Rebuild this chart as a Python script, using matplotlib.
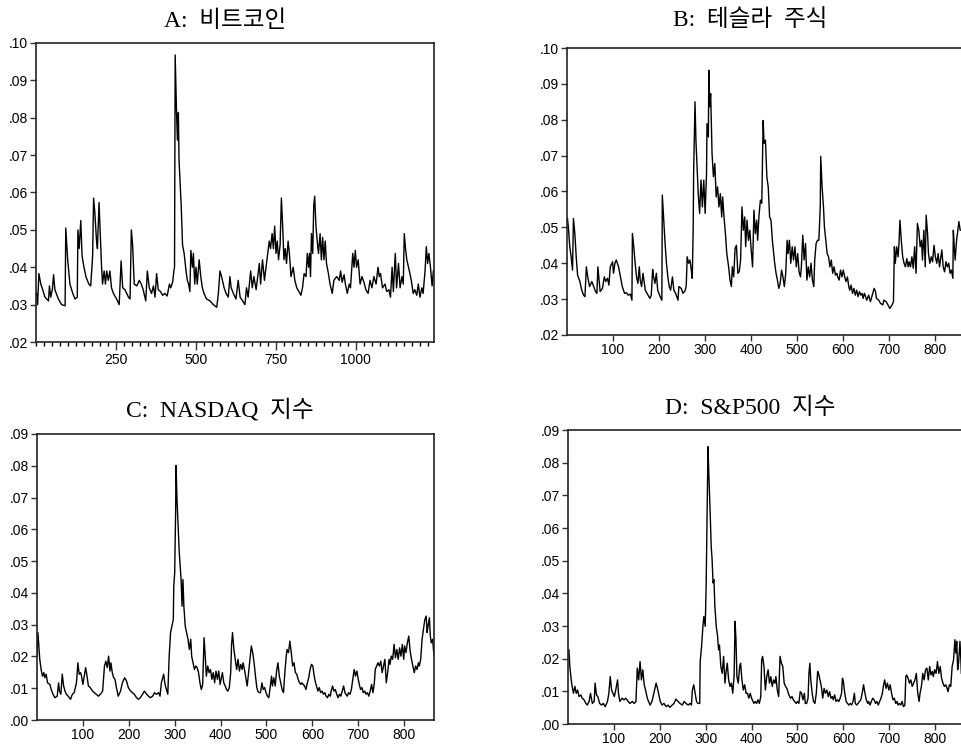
import numpy as np
import matplotlib
matplotlib.use("Agg")
import matplotlib.pyplot as plt
from matplotlib.ticker import MultipleLocator, FuncFormatter

plt.rcParams['font.family'] = ['Liberation Sans', 'DejaVu Sans']

# A: bitcoin (obs)
btc_obs = [2, 5, 9, 15, 21, 28, 39, 42, 46, 51, 55, 59, 70, 80, 91, 93, 99, 106, 115, 122,
           129, 131, 135, 140, 144, 150, 156, 165, 171, 177, 180, 184, 189, 192, 197, 201, 205, 208, 213, 217,
           221, 226, 231, 236, 242, 252, 260, 266, 271, 278, 289, 294, 298, 302, 307, 315, 323, 329, 335, 343,
           348, 354, 361, 367, 372, 377, 382, 388, 396, 403, 410, 417, 421, 427, 431, 433, 435, 439, 442, 445,
           447, 450, 454, 458, 463, 469, 473, 477, 481, 484, 489, 492, 496, 500, 504, 510, 515, 520, 525, 533,
           544, 554, 565, 570, 575, 580, 588, 594, 601, 606, 610, 617, 625, 632, 638, 646, 653, 658, 663, 671,
           676, 681, 688, 694, 698, 702, 708, 714, 719, 724, 729, 733, 738, 742, 746, 750, 754, 758, 763, 767,
           771, 775, 779, 783, 788, 792, 797, 804, 809, 815, 822, 828, 833, 838, 844, 848, 852, 855, 858, 861,
           865, 868, 871, 875, 879, 883, 888, 892, 896, 900, 904, 908, 914, 919, 926, 931, 940, 948, 952, 957,
           963, 967, 973, 979, 983, 990, 994, 998, 1002, 1007, 1013, 1019, 1025, 1031, 1038, 1044, 1050, 1056, 1063, 1069,
           1073, 1077, 1083, 1091, 1096, 1103, 1108, 1113, 1117, 1123, 1127, 1133, 1138, 1144, 1148, 1151, 1155, 1159, 1167, 1173,
           1179, 1184, 1190, 1195, 1200, 1206, 1210, 1216, 1220, 1224, 1228, 1233, 1238, 1242]
btc_vol = [.0330, .0300, .0383, .0355, .0340, .0320, .0310, .0350, .0320, .0340, .0380, .0340, .0315, .0300, .0297, .0505, .0420, .0355, .0330, .0315,
           .0320, .0500, .0450, .0525, .0430, .0400, .0375, .0355, .0350, .0430, .0585, .0545, .0473, .0450, .0573, .0490, .0400, .0355, .0390, .0355,
           .0390, .0365, .0390, .0345, .0330, .0315, .0300, .0417, .0345, .0340, .0320, .0315, .0500, .0460, .0355, .0350, .0365, .0355, .0340, .0310,
           .0390, .0345, .0330, .0350, .0320, .0383, .0340, .0336, .0325, .0330, .0323, .0355, .0345, .0360, .0390, .0400, .0968, .0822, .0740, .0814,
           .0688, .0634, .0562, .0460, .0437, .0390, .0365, .0355, .0335, .0445, .0400, .0437, .0355, .0400, .0355, .0420, .0375, .0345, .0330, .0315,
           .0310, .0300, .0293, .0330, .0390, .0375, .0345, .0330, .0320, .0375, .0345, .0330, .0315, .0365, .0320, .0310, .0300, .0345, .0320, .0390,
           .0345, .0375, .0340, .0383, .0410, .0355, .0420, .0365, .0400, .0437, .0470, .0450, .0490, .0450, .0510, .0437, .0470, .0420, .0460, .0585,
           .0510, .0420, .0450, .0410, .0470, .0437, .0375, .0400, .0365, .0345, .0335, .0325, .0345, .0383, .0375, .0437, .0400, .0437, .0375, .0490,
           .0437, .0563, .0590, .0510, .0470, .0437, .0490, .0420, .0480, .0420, .0470, .0410, .0383, .0355, .0330, .0365, .0375, .0365, .0390, .0360,
           .0380, .0355, .0330, .0355, .0345, .0437, .0400, .0445, .0400, .0420, .0355, .0375, .0360, .0340, .0330, .0365, .0345, .0375, .0355, .0400,
           .0375, .0383, .0345, .0355, .0335, .0340, .0320, .0400, .0335, .0437, .0345, .0410, .0345, .0375, .0355, .0490, .0450, .0420, .0390, .0365,
           .0330, .0340, .0325, .0355, .0320, .0345, .0330, .0390, .0455, .0410, .0437, .0400, .0350, .0390]

# B: tesla
tsla_obs = [1, 3, 6, 9, 12, 14, 17, 20, 23, 28, 32, 36, 39, 42, 45, 49, 54, 58, 62, 65,
            67, 70, 72, 77, 81, 84, 88, 91, 94, 99, 101, 104, 107, 112, 116, 120, 125, 129, 133, 138,
            141, 142, 145, 148, 151, 154, 157, 159, 162, 165, 170, 174, 180, 183, 186, 188, 191, 194, 197, 201,
            206, 207, 210, 213, 216, 219, 222, 225, 229, 232, 236, 241, 243, 248, 252, 257, 259, 261, 264, 267,
            270, 272, 274, 275, 278, 280, 283, 285, 288, 291, 294, 297, 300, 303, 304, 307, 308, 310, 312, 315,
            318, 321, 324, 327, 330, 333, 336, 338, 341, 344, 347, 351, 354, 357, 359, 362, 365, 368, 371, 374,
            377, 380, 383, 386, 388, 391, 394, 397, 400, 403, 406, 409, 412, 414, 417, 420, 423, 426, 428, 431,
            434, 437, 440, 443, 446, 449, 451, 454, 457, 460, 463, 466, 469, 472, 475, 478, 480, 483, 486, 489,
            492, 495, 498, 501, 504, 507, 509, 512, 515, 518, 521, 524, 527, 530, 533, 536, 538, 541, 544, 547,
            550, 551, 554, 557, 559, 562, 565, 568, 571, 574, 577, 580, 583, 586, 588, 591, 594, 597, 600, 603,
            606, 609, 612, 614, 617, 620, 623, 626, 629, 632, 635, 638, 641, 643, 646, 651, 655, 659, 664, 667,
            670, 672, 677, 681, 686, 688, 693, 697, 701, 706, 709, 711, 713, 716, 719, 721, 723, 726, 729, 732,
            735, 738, 741, 743, 746, 749, 752, 755, 758, 761, 764, 767, 770, 772, 775, 778, 780, 783, 785, 788,
            791, 794, 797, 800, 803, 806, 809, 812, 814, 817, 820, 823, 826, 829, 832, 835, 838, 839, 841, 843,
            846, 848, 851, 854]
tsla_vol = [.0525, .0500, .0446, .0418, .0381, .0525, .0483, .0418, .0367, .0349, .0325, .0311, .0307, .0390, .0362, .0335, .0349, .0335, .0321, .0316,
            .0390, .0349, .0321, .0330, .0362, .0349, .0358, .0339, .0390, .0404, .0372, .0400, .0409, .0390, .0362, .0335, .0316, .0318, .0311, .0314,
            .0297, .0483, .0446, .0400, .0362, .0344, .0390, .0353, .0335, .0372, .0325, .0316, .0302, .0311, .0383, .0362, .0344, .0372, .0325, .0311,
            .0297, .0590, .0520, .0455, .0400, .0362, .0335, .0325, .0362, .0325, .0316, .0297, .0335, .0330, .0316, .0325, .0339, .0418, .0400, .0409,
            .0381, .0358, .0492, .0650, .0850, .0743, .0650, .0594, .0539, .0632, .0557, .0632, .0539, .0650, .0789, .0752, .0938, .0836, .0873, .0706,
            .0641, .0678, .0585, .0613, .0557, .0594, .0529, .0585, .0529, .0483, .0427, .0390, .0353, .0335, .0390, .0362, .0441, .0450, .0372, .0376,
            .0409, .0557, .0492, .0529, .0446, .0520, .0464, .0492, .0437, .0390, .0548, .0483, .0520, .0464, .0534, .0576, .0567, .0798, .0734, .0743,
            .0641, .0613, .0529, .0520, .0464, .0427, .0400, .0372, .0353, .0330, .0344, .0381, .0362, .0335, .0372, .0464, .0427, .0464, .0400, .0446,
            .0409, .0446, .0390, .0427, .0376, .0362, .0390, .0478, .0409, .0455, .0353, .0390, .0362, .0400, .0353, .0335, .0409, .0455, .0464, .0464,
            .0557, .0698, .0613, .0557, .0502, .0464, .0427, .0418, .0390, .0409, .0372, .0390, .0367, .0372, .0362, .0353, .0381, .0362, .0381, .0362,
            .0349, .0362, .0335, .0325, .0339, .0316, .0330, .0311, .0325, .0307, .0321, .0311, .0316, .0302, .0316, .0297, .0311, .0293, .0316, .0330,
            .0321, .0302, .0297, .0288, .0284, .0297, .0293, .0284, .0274, .0284, .0293, .0446, .0400, .0446, .0418, .0455, .0520, .0464, .0418, .0400,
            .0390, .0413, .0390, .0404, .0390, .0418, .0386, .0446, .0372, .0511, .0492, .0446, .0464, .0409, .0492, .0390, .0534, .0483, .0427, .0400,
            .0418, .0404, .0450, .0418, .0400, .0427, .0390, .0418, .0437, .0390, .0376, .0404, .0390, .0400, .0372, .0381, .0358, .0492, .0446, .0409,
            .0464, .0483, .0516, .0492]

# C: NASDAQ
nasdaq_obs = [0, 2, 4, 6, 9, 12, 15, 17, 20, 23, 28, 31, 35, 39, 44, 47, 49, 52, 55, 58,
              61, 64, 68, 73, 77, 81, 86, 89, 92, 95, 97, 100, 103, 106, 109, 112, 116, 121, 125, 129,
              134, 138, 143, 147, 150, 153, 156, 159, 161, 164, 167, 170, 173, 177, 182, 186, 191, 195, 199, 204,
              208, 212, 217, 221, 225, 230, 234, 239, 243, 247, 252, 256, 260, 265, 268, 271, 273, 276, 279, 282,
              285, 288, 291, 294, 297, 298, 300, 302, 303, 305, 308, 310, 312, 314, 316, 318, 320, 323, 326, 329,
              332, 335, 337, 340, 343, 346, 349, 352, 355, 358, 361, 364, 367, 369, 372, 375, 378, 381, 384, 387,
              390, 393, 396, 399, 401, 404, 407, 410, 413, 416, 419, 422, 424, 426, 429, 432, 435, 438, 441, 444,
              447, 449, 452, 455, 458, 461, 464, 467, 470, 473, 476, 479, 481, 484, 487, 490, 493, 496, 499, 502,
              505, 508, 511, 513, 516, 519, 522, 525, 528, 531, 534, 537, 540, 543, 545, 548, 551, 554, 557, 560,
              563, 566, 569, 572, 575, 577, 580, 583, 586, 589, 592, 595, 598, 601, 604, 607, 609, 612, 615, 618,
              621, 624, 627, 630, 633, 636, 639, 641, 644, 647, 650, 653, 656, 659, 662, 665, 668, 671, 673, 676,
              679, 682, 685, 688, 691, 694, 697, 700, 703, 705, 708, 711, 714, 717, 720, 723, 726, 729, 732, 735,
              737, 740, 743, 746, 749, 752, 755, 758, 761, 764, 767, 769, 772, 775, 778, 781, 784, 787, 790, 793,
              796, 799, 801, 804, 807, 810, 813, 816, 819, 822, 825, 828, 831, 833, 836, 839, 842, 845, 848, 850,
              852, 855, 857, 859, 862, 865]
nasdaq_vol = [.0201, .0275, .0233, .0191, .0159, .0138, .0149, .0133, .0144, .0117, .0112, .0096, .0081, .0070, .0075, .0117, .0091, .0081, .0144, .0107,
              .0091, .0081, .0075, .0065, .0081, .0086, .0117, .0180, .0144, .0149, .0138, .0112, .0138, .0165, .0138, .0107, .0102, .0091, .0086, .0081,
              .0075, .0081, .0091, .0170, .0185, .0165, .0201, .0154, .0180, .0149, .0133, .0128, .0102, .0075, .0091, .0117, .0133, .0123, .0102, .0091,
              .0086, .0081, .0070, .0065, .0070, .0081, .0091, .0081, .0075, .0070, .0075, .0086, .0081, .0086, .0075, .0117, .0128, .0144, .0112, .0096,
              .0081, .0201, .0275, .0295, .0316, .0421, .0463, .0652, .0801, .0694, .0589, .0526, .0484, .0442, .0358, .0442, .0358, .0295, .0275, .0254,
              .0222, .0254, .0201, .0180, .0159, .0170, .0165, .0149, .0117, .0096, .0112, .0259, .0191, .0138, .0170, .0149, .0159, .0128, .0149, .0117,
              .0154, .0128, .0154, .0112, .0128, .0149, .0117, .0107, .0096, .0091, .0102, .0149, .0238, .0275, .0222, .0191, .0159, .0191, .0154, .0175,
              .0159, .0180, .0159, .0133, .0107, .0149, .0191, .0233, .0212, .0180, .0138, .0102, .0091, .0086, .0086, .0117, .0096, .0102, .0086, .0075,
              .0070, .0102, .0138, .0107, .0133, .0107, .0154, .0180, .0138, .0117, .0096, .0086, .0149, .0201, .0222, .0212, .0248, .0212, .0170, .0180,
              .0149, .0144, .0128, .0117, .0112, .0117, .0112, .0107, .0096, .0117, .0133, .0159, .0175, .0170, .0138, .0117, .0107, .0091, .0102, .0086,
              .0091, .0081, .0086, .0075, .0070, .0081, .0075, .0091, .0107, .0091, .0096, .0081, .0070, .0081, .0075, .0091, .0107, .0086, .0081, .0075,
              .0086, .0081, .0096, .0128, .0159, .0138, .0154, .0128, .0107, .0096, .0102, .0086, .0091, .0081, .0086, .0075, .0091, .0112, .0086, .0117,
              .0159, .0170, .0180, .0170, .0185, .0149, .0170, .0191, .0117, .0149, .0191, .0175, .0201, .0191, .0238, .0196, .0222, .0191, .0227, .0201,
              .0238, .0191, .0233, .0212, .0243, .0264, .0217, .0191, .0170, .0149, .0170, .0159, .0180, .0170, .0191, .0254, .0285, .0316, .0327, .0275,
              .0295, .0322, .0264, .0243, .0254, .0201]

# D: S&P500
sp_obs = [2, 4, 7, 9, 12, 15, 18, 21, 24, 28, 31, 35, 39, 42, 46, 49, 53, 57, 59, 62,
          65, 69, 73, 77, 81, 86, 89, 92, 95, 98, 101, 104, 108, 110, 113, 118, 122, 126, 131, 135,
          140, 144, 148, 151, 154, 157, 160, 163, 166, 169, 172, 174, 179, 183, 187, 192, 195, 198, 201, 205,
          209, 214, 218, 222, 227, 231, 235, 240, 244, 249, 253, 257, 262, 266, 269, 271, 274, 277, 280, 283,
          287, 288, 291, 294, 296, 299, 301, 303, 305, 307, 310, 312, 314, 316, 318, 320, 323, 326, 328, 330,
          333, 336, 339, 342, 344, 347, 350, 353, 356, 359, 362, 364, 366, 368, 371, 374, 376, 379, 382, 385,
          388, 391, 394, 397, 400, 403, 405, 408, 411, 414, 417, 420, 422, 424, 427, 430, 433, 436, 439, 442,
          445, 448, 451, 453, 456, 459, 462, 465, 468, 471, 474, 477, 480, 483, 485, 488, 491, 494, 497, 500,
          503, 506, 509, 512, 515, 517, 520, 523, 525, 527, 529, 532, 535, 538, 541, 544, 546, 549, 552, 555,
          558, 561, 564, 567, 570, 573, 576, 578, 581, 584, 587, 590, 593, 596, 598, 600, 603, 606, 609, 612,
          615, 618, 621, 624, 626, 629, 632, 635, 638, 641, 644, 647, 650, 653, 655, 658, 661, 664, 667, 670,
          673, 676, 679, 682, 685, 687, 690, 693, 696, 699, 702, 705, 708, 711, 714, 717, 719, 722, 725, 728,
          731, 734, 736, 738, 741, 744, 747, 750, 753, 756, 759, 762, 765, 767, 770, 773, 776, 779, 782, 785,
          788, 791, 794, 796, 799, 802, 805, 808, 811, 814, 817, 820, 823, 826, 828, 831, 834, 837, 840, 843,
          845, 847, 849, 851, 854, 856, 857]
sp_vol = [.0227, .0176, .0135, .0115, .0094, .0115, .0094, .0104, .0084, .0089, .0079, .0074, .0063, .0058, .0069, .0094, .0063, .0069, .0125, .0089,
          .0084, .0063, .0058, .0063, .0053, .0069, .0094, .0145, .0104, .0094, .0084, .0104, .0135, .0094, .0069, .0079, .0074, .0079, .0069, .0063,
          .0069, .0063, .0069, .0171, .0135, .0191, .0135, .0166, .0120, .0104, .0084, .0074, .0058, .0069, .0094, .0125, .0109, .0089, .0069, .0058,
          .0063, .0053, .0058, .0051, .0058, .0063, .0076, .0069, .0063, .0058, .0069, .0063, .0058, .0063, .0058, .0104, .0120, .0094, .0069, .0063,
          .0063, .0191, .0237, .0299, .0329, .0299, .0421, .0646, .0849, .0759, .0636, .0544, .0503, .0432, .0442, .0360, .0299, .0268, .0227, .0242,
          .0176, .0155, .0207, .0125, .0155, .0186, .0135, .0115, .0125, .0094, .0150, .0314, .0258, .0145, .0125, .0176, .0186, .0135, .0104, .0120,
          .0094, .0094, .0079, .0094, .0079, .0069, .0063, .0069, .0063, .0074, .0063, .0084, .0196, .0207, .0176, .0104, .0145, .0166, .0125, .0145,
          .0115, .0135, .0125, .0145, .0104, .0084, .0207, .0186, .0176, .0125, .0115, .0109, .0094, .0084, .0079, .0084, .0074, .0069, .0063, .0069,
          .0063, .0099, .0094, .0074, .0094, .0063, .0063, .0079, .0155, .0186, .0135, .0094, .0069, .0063, .0094, .0161, .0155, .0135, .0115, .0079,
          .0109, .0094, .0104, .0084, .0099, .0079, .0084, .0074, .0089, .0069, .0074, .0069, .0079, .0094, .0140, .0130, .0094, .0069, .0063, .0058,
          .0063, .0058, .0069, .0094, .0063, .0058, .0063, .0069, .0074, .0094, .0120, .0094, .0074, .0063, .0069, .0058, .0069, .0079, .0074, .0063,
          .0069, .0058, .0069, .0079, .0094, .0115, .0135, .0109, .0125, .0104, .0120, .0094, .0074, .0079, .0063, .0069, .0058, .0063, .0058, .0069,
          .0053, .0058, .0145, .0150, .0140, .0125, .0135, .0115, .0125, .0135, .0155, .0094, .0069, .0094, .0115, .0155, .0135, .0166, .0171, .0135,
          .0176, .0150, .0161, .0145, .0166, .0155, .0191, .0155, .0176, .0140, .0125, .0115, .0120, .0109, .0099, .0120, .0115, .0176, .0196, .0258,
          .0217, .0253, .0166, .0186, .0253, .0196, .0155]

titles = ["A:  비트코인", "B:  테슬라  주식", "C:  NASDAQ  지수", "D:  S&P500  지수"]

W, H = 961, 746
fig = plt.figure(figsize=(W / 100, H / 100), dpi=100)


def px_axes(left, top, right, bottom):
    return fig.add_axes([left / W, 1 - bottom / H, (right - left) / W, (bottom - top) / H])


def dot_fmt(v, pos):
    return f"{v:.2f}".lstrip("0") if v >= 0 else f"{v:.2f}"


panels = [
    (px_axes(36, 43, 434, 342), btc_obs, btc_vol, (0, 1244), (0.02, 0.10), 250, titles[0], (225, 21)),
    (px_axes(567, 48, 963, 335), tsla_obs, tsla_vol, (0, 860), (0.02, 0.10), 100, titles[1], (750, 20)),
    (px_axes(37, 434, 434, 720), nasdaq_obs, nasdaq_vol, (0, 865), (0.0, 0.09), 100, titles[2], (220, 410)),
    (px_axes(568, 430, 965, 724), sp_obs, sp_vol, (0, 865), (0.0, 0.09), 100, titles[3], (750, 408)),
]

for ax, xs, ys, xl, yl, step, title, (tx, ty) in panels:
    ax.plot(xs, ys, color='black', lw=1.0)
    ax.set_xlim(*xl)
    ax.set_ylim(*yl)
    ax.set_xticks(np.arange(step, xl[1], step))
    ax.yaxis.set_major_locator(MultipleLocator(0.01))
    ax.yaxis.set_major_formatter(FuncFormatter(dot_fmt))
    ax.tick_params(direction='out', length=4, width=1, labelsize=10, pad=2, color='#333333')
    for s in ax.spines.values():
        s.set_linewidth(1.2)
        s.set_color('#222222')
    fig.text(tx / W, 1 - ty / H, title, ha='center', va='center', fontsize=17,
             family=['Liberation Serif', 'Noto Sans CJK KR'])

# bitcoin panel has minor ticks every 25 obs
ax_a = panels[0][0]
ax_a.xaxis.set_minor_locator(MultipleLocator(25))
ax_a.tick_params(axis='x', which='minor', direction='out', length=3, width=1)
ax_a.tick_params(axis='x', which='major', length=6)

fig.savefig("out.png", dpi=100)
